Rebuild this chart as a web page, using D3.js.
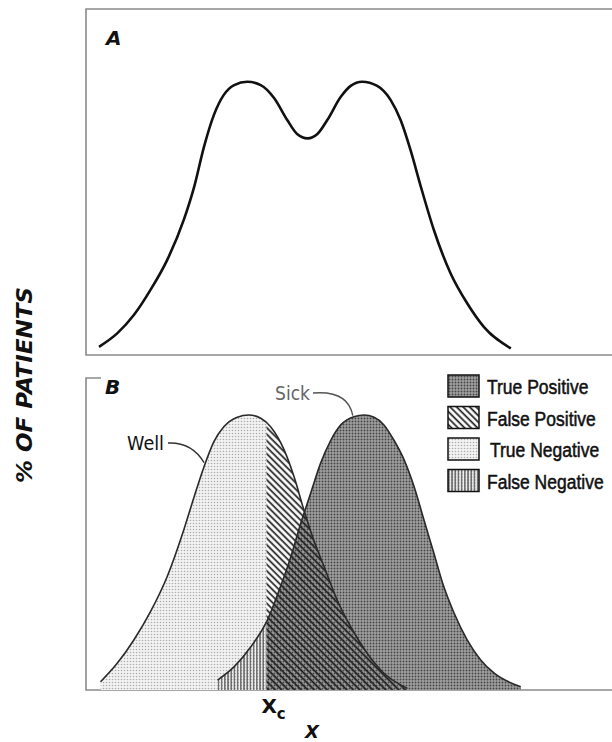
<!DOCTYPE html>
<html><head><meta charset="utf-8">
<script src="https://cdn.jsdelivr.net/npm/d3@7"></script>
<style>body{margin:0;background:#fff}svg{display:block}text{font-family:"DejaVu Sans","Liberation Sans",sans-serif}</style>
</head><body>
<svg id="c" width="612" height="742"></svg>
<script>
// ---- data (x in arbitrary test-value units 0..100, y = relative % of patients, peak = 100)
const totalX = [2.5,6.0,9.2,12.4,15.6,18.8,20.8,22.7,24.6,26.5,28.5,31.0,33.6,36.2,38.7,40.6,42.6,44.5,46.4,49.0,50.9,53.1,56.0,58.6,60.5,62.4,64.4,66.9,70.1,73.3,76.5,81.7];
const totalY = [3.0,7.9,14.6,23.8,34.7,49.4,61.5,76.2,87.8,95.1,98.7,99.9,98.7,93.9,85.9,80.8,79.2,80.8,85.9,94.4,98.4,99.9,98.4,93.2,85.9,75.0,61.5,45.7,29.9,18.9,10.3,2.4];
const wellX = [2.8,6.0,9.2,12.4,15.6,18.8,20.8,22.7,24.6,26.5,29.1,31.3,33.6,35.5,38.1,40.0,41.9,43.8,45.8,48.3,50.9,54.1,57.3,61.8];
const wellY = [3.0,9.7,18.2,28.5,41.2,58.2,70.3,81.2,90.3,95.7,99.2,100,98.8,95.7,87.3,77.6,65.5,54.5,44.8,32.7,23.0,13.3,6.1,0.6];
const sickX = [25.3,28.5,31.7,34.9,37.4,39.4,41.3,43.2,45.1,47.1,49.0,51.5,53.5,55.4,57.3,59.2,61.2,63.1,65.0,66.9,68.8,70.8,73.3,75.9,78.5,83.6];
const sickY = [3.6,8.5,15.7,25.5,37.6,48.5,60.6,71.5,82.4,90.9,96.4,99.4,100,99.2,96.4,90.9,83.6,73.9,61.8,49.7,37.6,27.9,18.2,10.9,6.1,1.2];
const cutoff = 34.7;
const legendLabels = ["True Positive","False Positive","True Negative","False Negative"];
const legendPatterns = ["tp","fp","tn","fn"];
const panelLabels = ["A","B"];
const curveLabels = ["Well","Sick"];
const yTitle = "% OF PATIENTS";

const svg = d3.select("#c");
const x = d3.scaleLinear().domain([0,100]).range([86,606]);
const yA = d3.scaleLinear().domain([0,100]).range([355,81.5]);
const yB = d3.scaleLinear().domain([0,100]).range([690,415]);
const zip = (xs,ys)=>xs.map((v,i)=>({x:v,y:ys[i]}));
const total = zip(totalX,totalY), well = zip(wellX,wellY), sick = zip(sickX,sickY);
const curve = d3.curveMonotoneX;

// ---- patterns
const defs = svg.append("defs");
function dots(id,bg,fg,r){
  const p = defs.append("pattern").attr("id",id).attr("width",3).attr("height",3).attr("patternUnits","userSpaceOnUse");
  p.append("rect").attr("width",3).attr("height",3).attr("fill",bg);
  p.append("circle").attr("cx",1.5).attr("cy",1.5).attr("r",r).attr("fill",fg);
}
dots("tp","#a0a0a0","#464646",0.95);
dots("tn","#f3f3f3","#adadad",0.8);
const fp = defs.append("pattern").attr("id","fp").attr("width",4.6).attr("height",4.6)
  .attr("patternUnits","userSpaceOnUse").attr("patternTransform","rotate(-45)");
fp.append("line").attr("x1",1.2).attr("x2",1.2).attr("y1",0).attr("y2",4.6).attr("stroke","#1a1a1a").attr("stroke-width",1.7);
const fn = defs.append("pattern").attr("id","fn").attr("width",3.2).attr("height",6).attr("patternUnits","userSpaceOnUse");
fn.append("rect").attr("width",3.2).attr("height",6).attr("fill","url(#tn)");
fn.append("line").attr("x1",0.8).attr("x2",0.8).attr("y1",0).attr("y2",6).attr("stroke","#3a3a3a").attr("stroke-width",1.1);

defs.append("clipPath").attr("id","left").append("rect")
  .attr("x",0).attr("y",0).attr("width",x(cutoff)).attr("height",742);
defs.append("clipPath").attr("id","right").append("rect")
  .attr("x",x(cutoff)).attr("y",0).attr("width",612-x(cutoff)).attr("height",742);

// ---- frames
const frame = svg.append("g").attr("fill","none").attr("stroke","#8a8a8a").attr("stroke-width",1.6);
frame.append("path").attr("d",`M612,9H${x(0)}V${yA(0)}H612`);
frame.append("path").attr("d",`M${x(0)+15},378H${x(0)}V${yB(0)}H612`);

// ---- panel A
const lineA = d3.line().x(d=>x(d.x)).y(d=>yA(d.y)).curve(curve);
svg.append("path").attr("d",lineA(total)).attr("fill","none").attr("stroke","#111").attr("stroke-width",2.6);

// ---- panel B
const areaB = d3.area().x(d=>x(d.x)).y0(yB(0)).y1(d=>yB(d.y)).curve(curve);
const lineB = d3.line().x(d=>x(d.x)).y(d=>yB(d.y)).curve(curve);
svg.append("path").attr("d",areaB(well)).attr("fill","url(#tn)").attr("clip-path","url(#left)");
svg.append("path").attr("d",areaB(sick)).attr("fill","url(#fn)").attr("clip-path","url(#left)");
svg.append("path").attr("d",areaB(sick)).attr("fill","url(#tp)").attr("clip-path","url(#right)");
svg.append("path").attr("d",areaB(well)).attr("fill","url(#fp)").attr("clip-path","url(#right)");
svg.append("path").attr("d",lineB(well)).attr("fill","none").attr("stroke","#2a2a2a").attr("stroke-width",1.6);
svg.append("path").attr("d",lineB(sick)).attr("fill","none").attr("stroke","#2a2a2a").attr("stroke-width",1.6);

// ---- curve labels with leaders
const wellAnchor = well[7], sickAnchor = sick[11];
svg.append("text").attr("x",127).attr("y",450).attr("font-size",20).attr("textLength",37)
  .attr("lengthAdjust","spacingAndGlyphs").attr("fill","#111").text(curveLabels[0]);
svg.append("path").attr("d",`M168,443Q192,442 ${x(wellAnchor.x)},${yB(wellAnchor.y)-4}`)
  .attr("fill","none").attr("stroke","#333").attr("stroke-width",1.4);
svg.append("text").attr("x",275).attr("y",400).attr("font-size",19).attr("textLength",35)
  .attr("lengthAdjust","spacingAndGlyphs").attr("fill","#666").text(curveLabels[1]);
svg.append("path").attr("d",`M313,393Q348,390 ${x(sickAnchor.x)-1},${yB(sickAnchor.y)-1}`)
  .attr("fill","none").attr("stroke","#555").attr("stroke-width",1.4);

// ---- legend
const lg = svg.append("g").selectAll("g").data(legendLabels).join("g")
  .attr("transform",(d,i)=>`translate(448,${375+i*31.5})`);
lg.append("rect").attr("width",31).attr("height",22)
  .attr("fill",(d,i)=>`url(#${legendPatterns[i]})`).attr("stroke","#111").attr("stroke-width",1.5);
lg.append("text").attr("transform",(d,i)=>`translate(${i==2?42:39},19) scale(1,1.2)`)
  .style("font-family","'Liberation Sans',Arial,sans-serif").attr("font-size",17.5)
  .attr("fill","#111").attr("stroke","#111").attr("stroke-width",0.45).text(d=>d);

// ---- panel letters
svg.append("text").attr("x",106).attr("y",45).attr("font-size",20).attr("font-style","italic").attr("font-weight","bold").attr("fill","#111").text(panelLabels[0]);
svg.append("text").attr("x",105).attr("y",394).attr("font-size",20).attr("font-style","italic").attr("font-weight","bold").attr("fill","#111").text(panelLabels[1]);

// ---- axis labels
const xl = svg.append("text").attr("x",x(cutoff)-5).attr("y",713).attr("font-size",20).attr("font-weight","bold").attr("fill","#111");
xl.append("tspan").text("X");
xl.append("tspan").attr("dy",6).attr("font-size",15).text("c");
svg.append("text").attr("x",305).attr("y",738).attr("font-size",18).attr("font-style","italic").attr("font-weight","bold").attr("fill","#111").text("X");
svg.append("text").attr("transform","translate(32,385) rotate(-90)").attr("text-anchor","middle")
  .attr("font-size",21).attr("font-style","italic").attr("font-weight","bold").attr("textLength",196).attr("lengthAdjust","spacingAndGlyphs")
  .attr("fill","#111").text(yTitle);
</script>
</body></html>
